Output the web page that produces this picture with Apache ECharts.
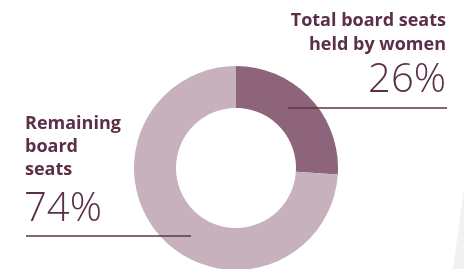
<!DOCTYPE html>
<html>
<head>
<meta charset="utf-8">
<script src="https://cdn.jsdelivr.net/npm/echarts@6/dist/echarts.min.js"></script>
<style>
  html, body { margin: 0; padding: 0; background: #fff; }
  #chart { width: 464px; height: 269px; }
</style>
</head>
<body>
<div id="chart"></div>
<script>
// data
var names = ['Total board seats held by women', 'Remaining board seats']
var values = [26, 74]
var colors = ['#8d6479', '#c6b1bc']
var rightLines = ['Total board seats', 'held by women']
var leftLines = ['Remaining', 'board', 'seats']

var textColor = '#5a2f47'
var lineColor = '#5e3349'
var boldFont = 'bold 18px "Open Sans", "Noto Sans", sans-serif'
var bigFont = '300 40px "Open Sans", "Noto Sans", sans-serif'

function txt (x, y, s, font, align) {
  return {
    type: 'text',
    x: x,
    y: y,
    style: {
      text: s,
      fill: textColor,
      font: font,
      align: align,
      verticalAlign: 'middle'
    },
    z: 10
  }
}

var graphics = [
  // faint page fold at bottom right
  {
    type: 'polygon',
    shape: { points: [[464, 188], [464, 269], [453, 269]] },
    style: { fill: '#f1f1f1' },
    z: 0
  },
  {
    type: 'line',
    shape: { x1: 288, y1: 108, x2: 447, y2: 108 },
    style: { stroke: lineColor, lineWidth: 1.4 },
    z: 10
  },
  {
    type: 'line',
    shape: { x1: 26, y1: 236, x2: 191, y2: 236 },
    style: { stroke: lineColor, lineWidth: 1.4 },
    z: 10
  }
]
rightLines.forEach(function (s, i) {
  graphics.push(txt(446, 20.5 + i * 24, s, boldFont, 'right'))
})
graphics.push(txt(446, 81, values[0] + '%', bigFont, 'right'))
leftLines.forEach(function (s, i) {
  graphics.push(txt(25, 123.5 + i * 23, s, boldFont, 'left'))
})
graphics.push(txt(24, 210, values[1] + '%', bigFont, 'left'))

var chart = echarts.init(document.getElementById('chart'))
chart.setOption({
  animation: false,
  backgroundColor: '#fff',
  series: [
    {
      type: 'pie',
      center: [236, 168],
      radius: [60, 102],
      startAngle: 90,
      clockwise: true,
      label: { show: false },
      labelLine: { show: false },
      silent: true,
      data: names.map(function (n, i) {
        return { name: n, value: values[i], itemStyle: { color: colors[i] } }
      })
    }
  ],
  graphic: graphics
})
</script>
</body>
</html>
